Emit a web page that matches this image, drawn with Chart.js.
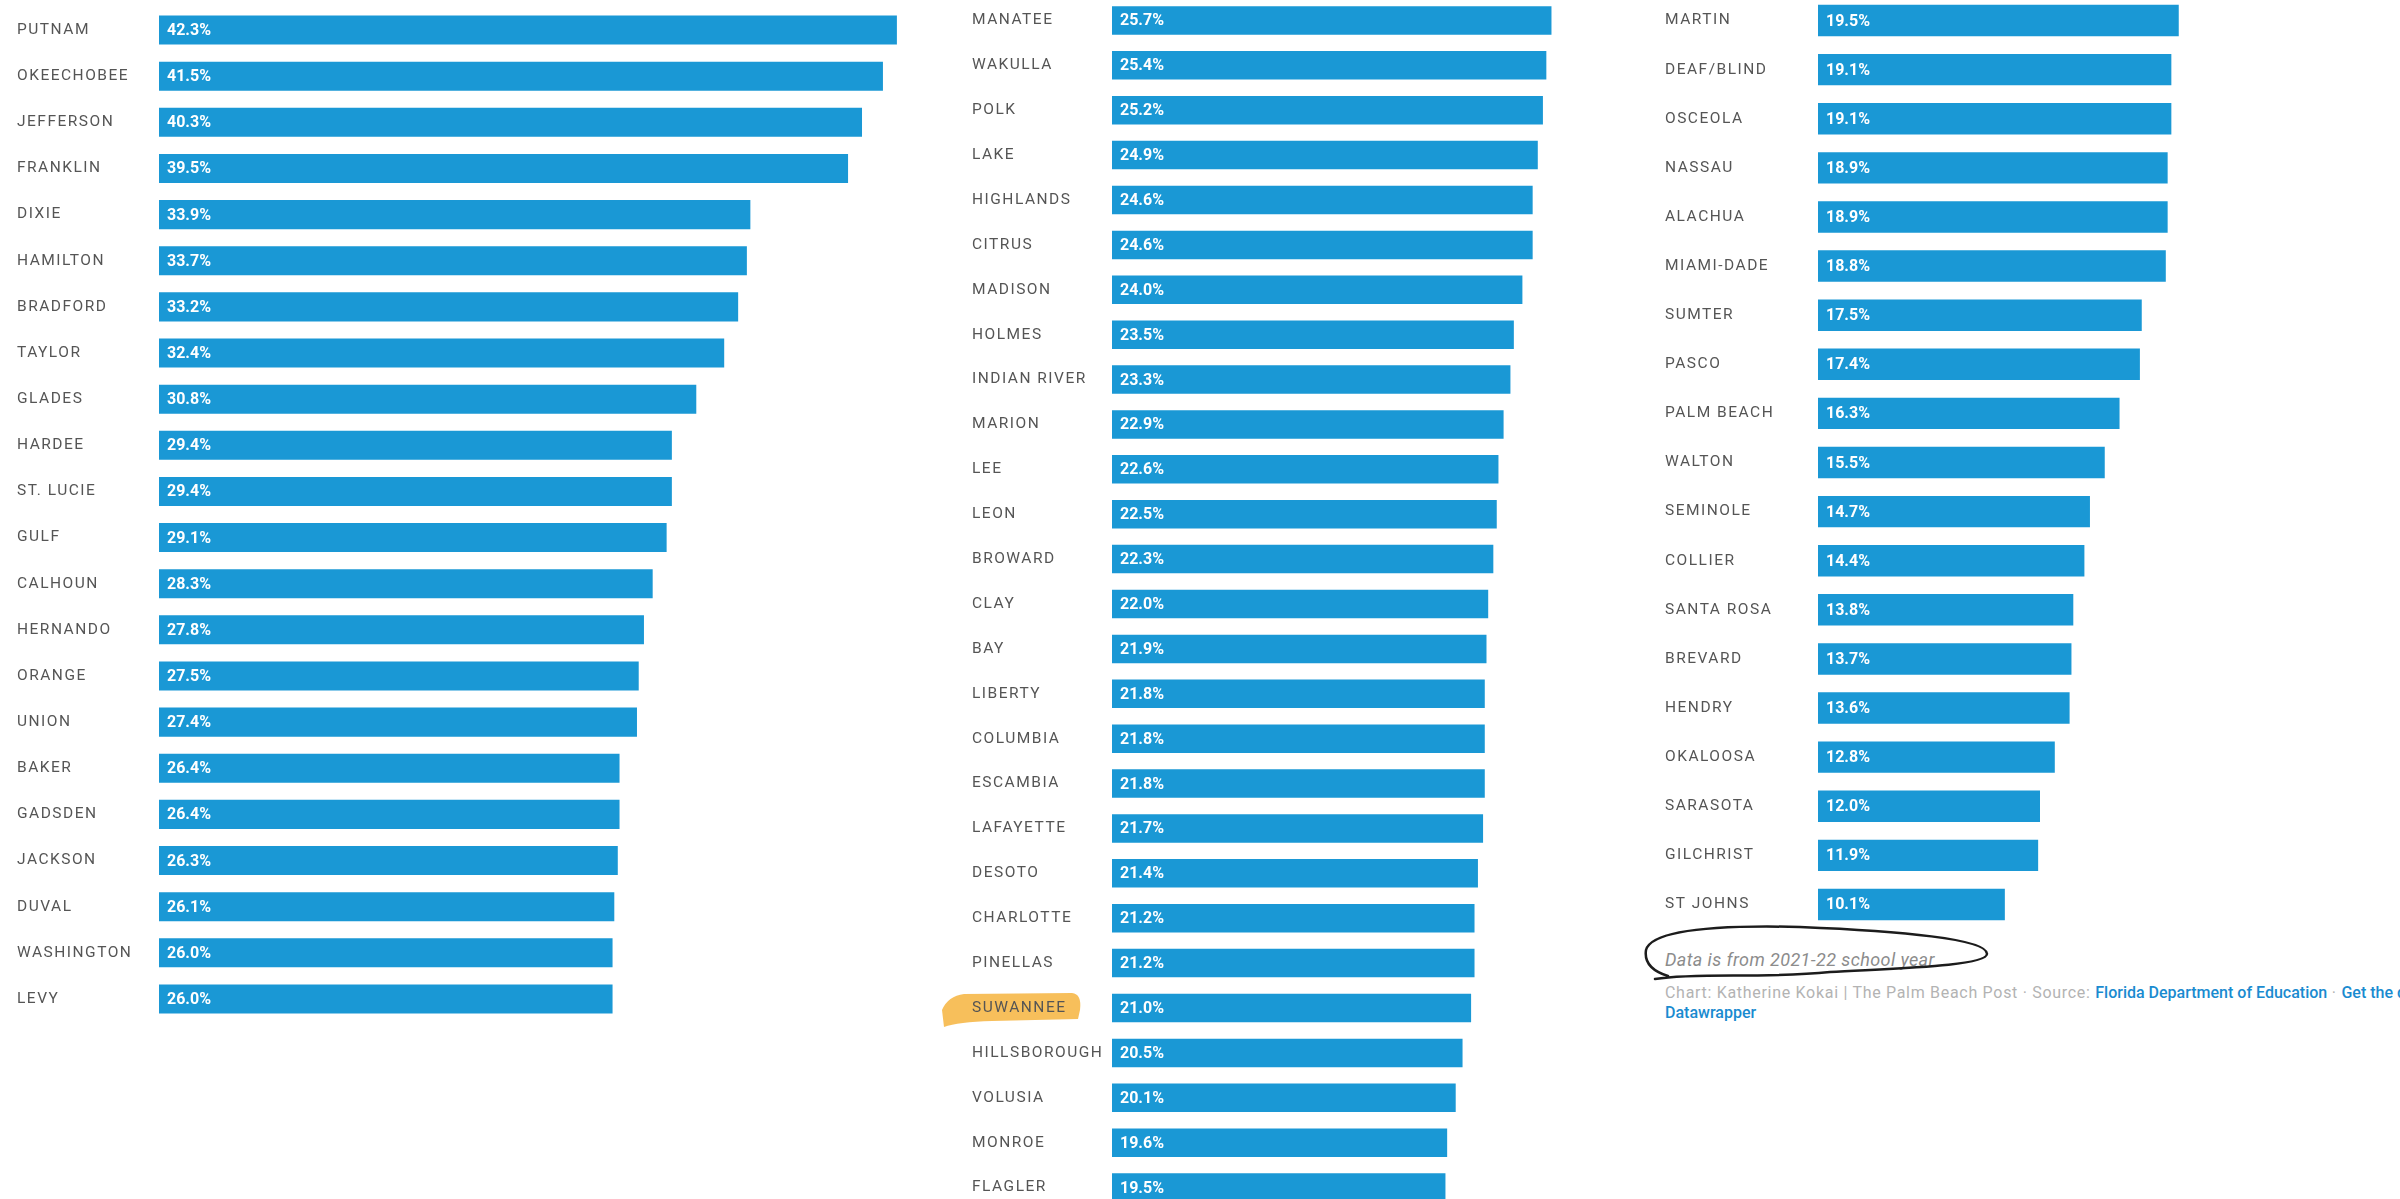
<!DOCTYPE html>
<html>
<head>
<meta charset="utf-8">
<script src="https://cdn.jsdelivr.net/npm/chart.js@4.4.1/dist/chart.umd.min.js"></script>
<style>
  html, body { margin: 0; padding: 0; background: #fff; }
  body { width: 2400px; height: 1199px; overflow: hidden; position: relative; font-family: Roboto, sans-serif; }
  .box { position: absolute; }
  .note { position: absolute; left: 1665px; top: 949px; font-size: 18px; line-height: 22px; font-style: italic; color: #8c8c8c; letter-spacing: 0.4px; white-space: nowrap; }
  .credit { position: absolute; left: 1665px; top: 983px; font-size: 16px; line-height: 20px; color: #b3b3b3; letter-spacing: 0.7px; white-space: nowrap; }
  .credit b { color: #1a8bd0; font-weight: 500; letter-spacing: 0; }
  svg { position: absolute; left: 0; top: 0; pointer-events: none; }
</style>
</head>
<body>
<div class="box" style="left:0;top:7px;width:944px;height:1015px"><canvas id="c1"></canvas></div>
<div class="box" style="left:930px;top:-2px;width:695px;height:1212px"><canvas id="c2"></canvas></div>
<div class="box" style="left:1665px;top:-4px;width:708px;height:933px"><canvas id="c3"></canvas></div>

<div class="note">Data is from 2021-22 school year</div>
<div class="credit">Chart: Katherine Kokai | The Palm Beach Post · Source: <b>Florida Department of Education</b> · <b>Get the data</b> · Created with<br><b>Datawrapper</b></div>

<svg width="2400" height="1199">
  <path d="M1655 979 C1700 972,1760 979,1830 972 C1900 968,1986 966,1987 954 C1988 939,1900 931,1800 927 C1720 925,1652 929,1646 950 C1644 963,1652 971,1668 976"
        fill="none" stroke="#1c1c1c" stroke-width="2.5" stroke-linecap="round"/>
</svg>

<script>
const BLUE = '#1a98d5'

const col1Names = ['PUTNAM', 'OKEECHOBEE', 'JEFFERSON', 'FRANKLIN', 'DIXIE', 'HAMILTON', 'BRADFORD', 'TAYLOR',
  'GLADES', 'HARDEE', 'ST. LUCIE', 'GULF', 'CALHOUN', 'HERNANDO', 'ORANGE', 'UNION', 'BAKER', 'GADSDEN',
  'JACKSON', 'DUVAL', 'WASHINGTON', 'LEVY']
const col1Values = [42.3, 41.5, 40.3, 39.5, 33.9, 33.7, 33.2, 32.4, 30.8, 29.4, 29.4, 29.1, 28.3, 27.8,
  27.5, 27.4, 26.4, 26.4, 26.3, 26.1, 26.0, 26.0]

const col2Names = ['MANATEE', 'WAKULLA', 'POLK', 'LAKE', 'HIGHLANDS', 'CITRUS', 'MADISON', 'HOLMES',
  'INDIAN RIVER', 'MARION', 'LEE', 'LEON', 'BROWARD', 'CLAY', 'BAY', 'LIBERTY', 'COLUMBIA', 'ESCAMBIA',
  'LAFAYETTE', 'DESOTO', 'CHARLOTTE', 'PINELLAS', 'SUWANNEE', 'HILLSBOROUGH', 'VOLUSIA', 'MONROE', 'FLAGLER']
const col2Values = [25.7, 25.4, 25.2, 24.9, 24.6, 24.6, 24.0, 23.5, 23.3, 22.9, 22.6, 22.5, 22.3, 22.0,
  21.9, 21.8, 21.8, 21.8, 21.7, 21.4, 21.2, 21.2, 21.0, 20.5, 20.1, 19.6, 19.5]

const col3Names = ['MARTIN', 'DEAF/BLIND', 'OSCEOLA', 'NASSAU', 'ALACHUA', 'MIAMI-DADE', 'SUMTER', 'PASCO',
  'PALM BEACH', 'WALTON', 'SEMINOLE', 'COLLIER', 'SANTA ROSA', 'BREVARD', 'HENDRY', 'OKALOOSA', 'SARASOTA',
  'GILCHRIST', 'ST JOHNS']
const col3Values = [19.5, 19.1, 19.1, 18.9, 18.9, 18.8, 17.5, 17.4, 16.3, 15.5, 14.7, 14.4, 13.8, 13.7,
  13.6, 12.8, 12.0, 11.9, 10.1]

const highlighted = 'SUWANNEE'

// spaced-out county names, white values inside the bars
const textPlugin = {
  id: 'text',
  beforeDraw(chart) {
    chart.ctx.letterSpacing = '1.5px'
    const y = chart.scales.y
    const idx = chart.data.labels.indexOf(highlighted)
    if (idx < 0) return
    // marker-pen highlight behind the label
    const lx = y.left, ly = y.getPixelForValue(idx)
    const ctx = chart.ctx
    ctx.save()
    ctx.fillStyle = 'rgba(246, 180, 62, 0.85)'
    ctx.beginPath()
    ctx.moveTo(lx - 30, ly + 2)
    ctx.quadraticCurveTo(lx - 24, ly - 12, lx - 8, ly - 14)
    ctx.lineTo(lx + 100, ly - 15)
    ctx.quadraticCurveTo(lx + 110, ly - 14, lx + 108, ly + 2)
    ctx.lineTo(lx + 106, ly + 11)
    ctx.lineTo(lx + 20, ly + 13)
    ctx.quadraticCurveTo(lx - 14, ly + 14, lx - 28, ly + 19)
    ctx.closePath()
    ctx.fill()
    ctx.restore()
  },
  afterDatasetsDraw(chart) {
    const ctx = chart.ctx
    const values = chart.data.datasets[0].data
    ctx.save()
    ctx.letterSpacing = '0px'
    ctx.fillStyle = '#fff'
    ctx.font = 'bold 16px Roboto'
    ctx.textBaseline = 'middle'
    chart.getDatasetMeta(0).data.forEach((bar, i) => {
      ctx.fillText(values[i].toFixed(1) + '%', bar.base + 8, bar.y + 1)
    })
    ctx.restore()
  }
}

function makeChart(id, names, values, o) {
  return new Chart(document.getElementById(id), {
    type: 'bar',
    data: {
      labels: names,
      datasets: [{
        data: values,
        backgroundColor: BLUE,
        borderWidth: 0,
        barPercentage: o.bar,
        categoryPercentage: 1,
      }],
    },
    options: {
      indexAxis: 'y',
      responsive: true,
      maintainAspectRatio: false,
      animation: false,
      layout: { padding: { left: o.padLeft, right: 0, top: 0, bottom: 0 } },
      plugins: { legend: { display: false }, tooltip: { enabled: false } },
      scales: {
        x: { display: false, min: 0, max: o.max },
        y: {
          grid: { display: false },
          border: { display: false },
          ticks: {
            autoSkip: false,
            crossAlign: 'far',
            padding: 0,
            color: '#555',
            font: { family: 'Roboto', size: 15.5 },
          },
          // fixed label column, no extra room above/below the rows
          afterFit: s => {
            s.width = o.axisWidth
            s.paddingTop = 0
            s.paddingBottom = 0
          },
        },
      },
    },
    plugins: [textPlugin],
  })
}

makeChart('c1', col1Names, col1Values, { max: 45, padLeft: 17, axisWidth: 142, bar: 0.63 })
makeChart('c2', col2Names, col2Values, { max: 30, padLeft: 42, axisWidth: 140, bar: 0.635 })
makeChart('c3', col3Names, col3Values, { max: 30, padLeft: 0, axisWidth: 153, bar: 0.64 })
</script>
</body>
</html>
